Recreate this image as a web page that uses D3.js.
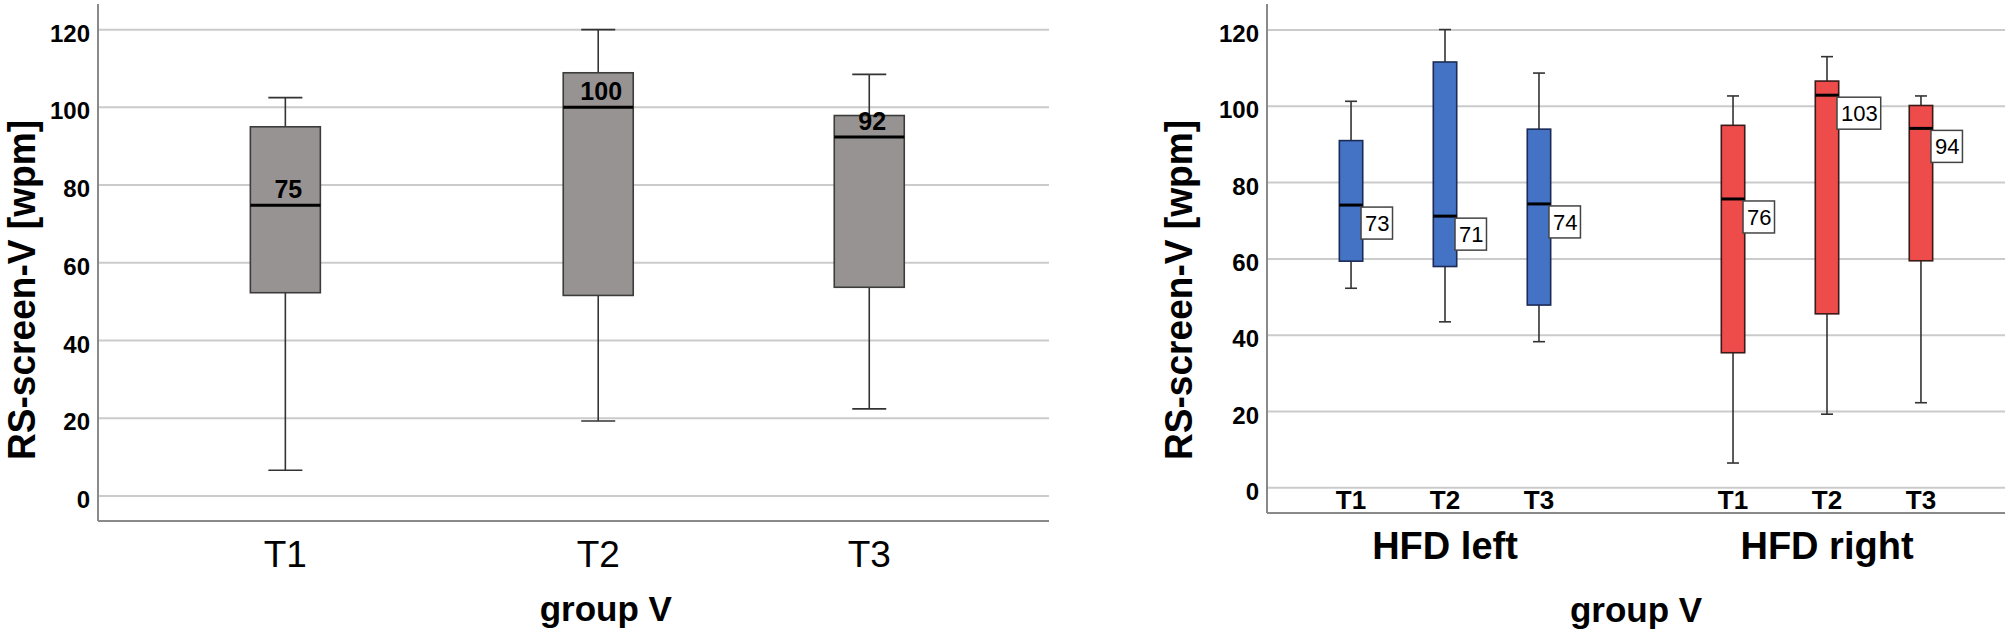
<!DOCTYPE html>
<html>
<head>
<meta charset="utf-8">
<script src="https://cdn.jsdelivr.net/npm/d3@7/dist/d3.min.js"></script>
<style>
  body { margin: 0; background: #fff; }
  svg { display: block; font-family: 'Liberation Sans', Arial, sans-serif; }
  .narrow { font-family: 'Liberation Sans Narrow', 'Liberation Sans', Arial, sans-serif; font-weight: bold; }
</style>
</head>
<body>
<div id="chart"></div>
<script>
// left panel: group V over time
const leftCats = ['T1', 'T2', 'T3'];
const leftMin = [6.6, 19.3, 22.4];
const leftQ1 = [52.3, 51.6, 53.7];
const leftMedian = [74.8, 100, 92.4];
const leftQ3 = [95.0, 108.9, 97.9];
const leftMax = [102.5, 120, 108.5];
const leftLabels = ['75', '100', '92'];

// right panel: split by side
const groups = ['HFD left', 'HFD right'];
const times = ['T1', 'T2', 'T3'];
const rightMin = [52.3, 43.5, 38.3, 6.5, 19.3, 22.3];
const rightQ1 = [59.4, 58.0, 47.9, 35.4, 45.6, 59.5];
const rightMedian = [74.1, 71.2, 74.4, 75.7, 102.9, 94.2];
const rightQ3 = [91.0, 111.6, 94.0, 95.0, 106.6, 100.2];
const rightMax = [101.3, 120.1, 108.7, 102.7, 113.0, 102.7];
const rightLabels = ['73', '71', '74', '76', '103', '94'];

const yTicks = [0, 20, 40, 60, 80, 100, 120];
const yTitle = 'RS-screen-V [wpm]';
const xTitle = 'group V';

const svg = d3.select('#chart')
  .append('svg')
    .attr('width', 2007)
    .attr('height', 636);

function frame(g, x0, x1, y) {
  // grid lines
  g.append('g')
    .selectAll('line')
    .data(yTicks)
    .enter()
    .append('line')
      .attr('x1', x0)
      .attr('x2', x1)
      .attr('y1', d => y(d))
      .attr('y2', d => y(d))
      .attr('stroke', '#cbcbcb')
      .attr('stroke-width', 2);

  // axes lines
  const [yb, yt] = y.range();
  g.append('line')
    .attr('x1', x0).attr('x2', x0)
    .attr('y1', yt).attr('y2', yb)
    .attr('stroke', '#8a8a8a').attr('stroke-width', 2);
  g.append('line')
    .attr('x1', x0).attr('x2', x1)
    .attr('y1', yb).attr('y2', yb)
    .attr('stroke', '#8a8a8a').attr('stroke-width', 2);

  // y tick labels
  g.append('g')
    .selectAll('text')
    .data(yTicks)
    .enter()
    .append('text')
      .attr('class', 'narrow')
      .attr('x', x0 - 8)
      .attr('y', d => y(d) + 12)
      .attr('text-anchor', 'end')
      .style('font-size', '24px')
      .text(d => d);
}

function yLabel(x, yc) {
  // the original uses a condensed face, squeeze to its length
  svg.append('text')
    .attr('transform', `translate(${x}, ${yc}) rotate(-90)`)
    .attr('text-anchor', 'middle')
    .attr('textLength', 340)
    .attr('lengthAdjust', 'spacingAndGlyphs')
    .style('font-size', '38px')
    .style('font-weight', 'bold')
    .text(yTitle);
}

function boxes(g, data, cx, y, boxW, capW, fill, stroke) {
  const b = g.selectAll('.box')
    .data(data)
    .enter()
    .append('g')
      .attr('class', 'box');

  b.append('line')
    .attr('x1', d => cx(d)).attr('x2', d => cx(d))
    .attr('y1', d => y(d.max)).attr('y2', d => y(d.q3))
    .attr('stroke', '#333').attr('stroke-width', 1.6);
  b.append('line')
    .attr('x1', d => cx(d)).attr('x2', d => cx(d))
    .attr('y1', d => y(d.q1)).attr('y2', d => y(d.min))
    .attr('stroke', '#333').attr('stroke-width', 1.6);
  b.selectAll('.cap')
    .data(d => [d.min, d.max].map(v => ({ v, x: cx(d) })))
    .enter()
    .append('line')
      .attr('x1', d => d.x - capW / 2).attr('x2', d => d.x + capW / 2)
      .attr('y1', d => y(d.v)).attr('y2', d => y(d.v))
      .attr('stroke', '#333').attr('stroke-width', 1.6);

  b.append('rect')
    .attr('x', d => cx(d) - boxW / 2)
    .attr('y', d => y(d.q3))
    .attr('width', boxW)
    .attr('height', d => y(d.q1) - y(d.q3))
    .attr('fill', fill)
    .attr('stroke', stroke)
    .attr('stroke-width', 1.6);

  b.append('line')
    .attr('x1', d => cx(d) - boxW / 2).attr('x2', d => cx(d) + boxW / 2)
    .attr('y1', d => y(d.median)).attr('y2', d => y(d.median))
    .attr('stroke', '#000').attr('stroke-width', 3);
  return b;
}

// ---------- left panel ----------
const L = { x0: 98, x1: 1049, top: 4, bottom: 521 };
const yL = d3.scaleLinear().domain([-6.45, 126.6]).range([L.bottom, L.top]);
const xL = d3.scaleOrdinal()
  .domain(leftCats)
  .range([0.197, 0.526, 0.811].map(f => L.x0 + f * (L.x1 - L.x0)));

const left = svg.append('g');
frame(left, L.x0, L.x1, yL);

const leftData = leftCats.map((c, i) => ({
  cat: c, min: leftMin[i], q1: leftQ1[i], median: leftMedian[i],
  q3: leftQ3[i], max: leftMax[i], label: leftLabels[i],
}));
const lb = boxes(left, leftData, d => xL(d.cat), yL, 70, 34, '#979392', '#3c3c3c');
lb.append('text')
  .attr('class', 'narrow')
  .attr('x', d => xL(d.cat) + 3)
  .attr('y', d => yL(d.median) - 7)
  .attr('text-anchor', 'middle')
  .style('font-size', '25px')
  .text(d => d.label);

left.append('g')
  .selectAll('text')
  .data(leftCats)
  .enter()
  .append('text')
    .attr('x', d => xL(d))
    .attr('y', 567)
    .attr('text-anchor', 'middle')
    .style('font-size', '37px')
    .text(d => d);

left.append('text')
  .attr('x', L.x0 + 0.534 * (L.x1 - L.x0))
  .attr('y', 621)
  .attr('text-anchor', 'middle')
  .style('font-size', '35px')
  .style('font-weight', 'bold')
  .text(xTitle);

yLabel(35, 290);

// ---------- right panel ----------
const R = { x0: 1267, x1: 2005, top: 4, bottom: 513 };
const yR = d3.scaleLinear().domain([-6.6, 126.8]).range([R.bottom, R.top]);
const xG = d3.scalePoint()
  .domain(groups)
  .range([R.x0, R.x1])
  .padding(0.466);
const xT = d3.scalePoint()
  .domain(times)
  .range([-0.246 * xG.step(), 0.246 * xG.step()]);

const right = svg.append('g');
frame(right, R.x0, R.x1, yR);

const rightData = [];
groups.forEach((g, gi) => times.forEach((t, ti) => {
  const i = gi * times.length + ti;
  rightData.push({
    group: g, time: t, gi, min: rightMin[i], q1: rightQ1[i], median: rightMedian[i],
    q3: rightQ3[i], max: rightMax[i], label: rightLabels[i],
  });
}));
const cxR = d => xG(d.group) + xT(d.time);
const fills = ['#4472c4', '#ee4b4b'];
const strokes = ['#1c2b55', '#3b1a1a'];

groups.forEach((g, gi) => {
  const gb = boxes(right.append('g'), rightData.filter(d => d.gi === gi), cxR, yR,
    23.4, 12, fills[gi], strokes[gi]);

  // median value tags
  const tag = gb.append('g')
    .attr('transform', d => `translate(${cxR(d) + 10}, ${yR(d.median) + 2})`);
  tag.append('rect')
    .attr('class', 'tag')
    .attr('height', 32)
    .attr('fill', '#fff')
    .attr('stroke', '#444')
    .attr('stroke-width', 1.5);
  tag.append('text')
    .attr('x', 4)
    .attr('y', 24)
    .style('font-size', '22px')
    .text(d => d.label);
  tag.each(function () {
    const w = d3.select(this).select('text').node().getComputedTextLength();
    d3.select(this).select('rect').attr('width', w + 7);
  });
});

// T labels inside plot
right.append('g')
  .selectAll('text')
  .data(rightData)
  .enter()
  .append('text')
    .attr('class', 'narrow')
    .attr('x', d => cxR(d))
    .attr('y', 509)
    .attr('text-anchor', 'middle')
    .style('font-size', '26px')
    .text(d => d.time);

right.append('g')
  .selectAll('text')
  .data(groups)
  .enter()
  .append('text')
    .attr('x', d => xG(d))
    .attr('y', 559)
    .attr('text-anchor', 'middle')
    .style('font-size', '38px')
    .style('font-weight', 'bold')
    .text(d => d);

right.append('text')
  .attr('x', (R.x0 + R.x1) / 2)
  .attr('y', 622)
  .attr('text-anchor', 'middle')
  .style('font-size', '35px')
  .style('font-weight', 'bold')
  .text(xTitle);

yLabel(1192, 290);
</script>
</body>
</html>
